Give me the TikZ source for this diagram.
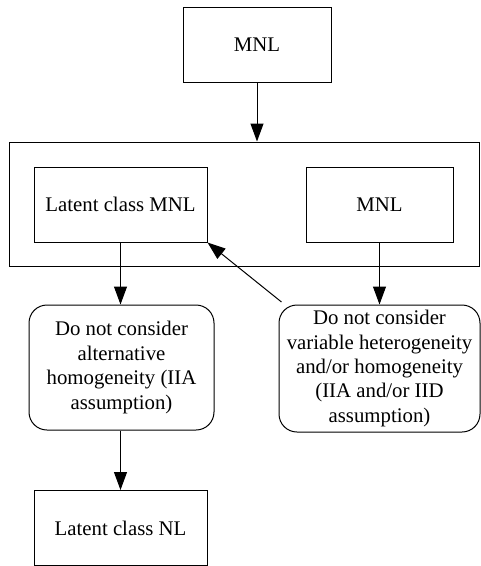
\documentclass[tikz,border=0pt]{standalone}
\usepackage{fontspec}
\setmainfont{Liberation Serif}
\usetikzlibrary{arrows.meta}
\tikzset{
  box/.style={draw, line width=1pt, minimum width=173pt, minimum height=75pt, inner sep=0pt, align=center},
  cond/.style={draw, line width=1pt, rounded corners=18pt, inner sep=0pt, align=center},
  arr/.style={line width=1pt, -{Triangle[length=18pt,width=13pt]}},
}
\begin{document}
\begin{tikzpicture}[x=1pt, y=-1pt, font=\fontsize{20.8}{24.4}\selectfont]
    \useasboundingbox (0,0) rectangle (481,566);
    \node [box, minimum width=148pt] (top) at (257,44.5) {MNL};
    \node [draw, line width=1pt, minimum width=470pt, minimum height=124pt] (grp) at (244,204) {};
    \node [box] (lcmnl) at (120.5,204.5) {Latent class MNL};
    \node [box, minimum width=147pt] (mnl) at (379.5,204.5) {MNL};
    \node [cond, minimum width=185pt, minimum height=125pt] (lcond) at (121.5,367.5)
      {Do not consider\\alternative\\homogeneity (IIA\\assumption)};
    \node [cond, minimum width=201pt, minimum height=127pt] (rcond) at (379.5,368.5)
      {Do not consider\\variable heterogeneity\\and/or homogeneity\\(IIA and/or IID\\assumption)};
    \node [box] (lcnl) at (120.5,528) {Latent class NL};
    % connectors
    \draw [arr] (top.south) -- (top.south |- grp.north);
    \draw [arr] (lcmnl.south) -- (lcond.north -| lcmnl.south);
    \draw [arr] (mnl.south) -- (rcond.north);
    \draw [arr, shorten <=4pt] (rcond.146) -- (lcmnl.south east);
    \draw [arr] (lcond.south -| lcnl.north) -- (lcnl.north);
\end{tikzpicture}
\end{document}
